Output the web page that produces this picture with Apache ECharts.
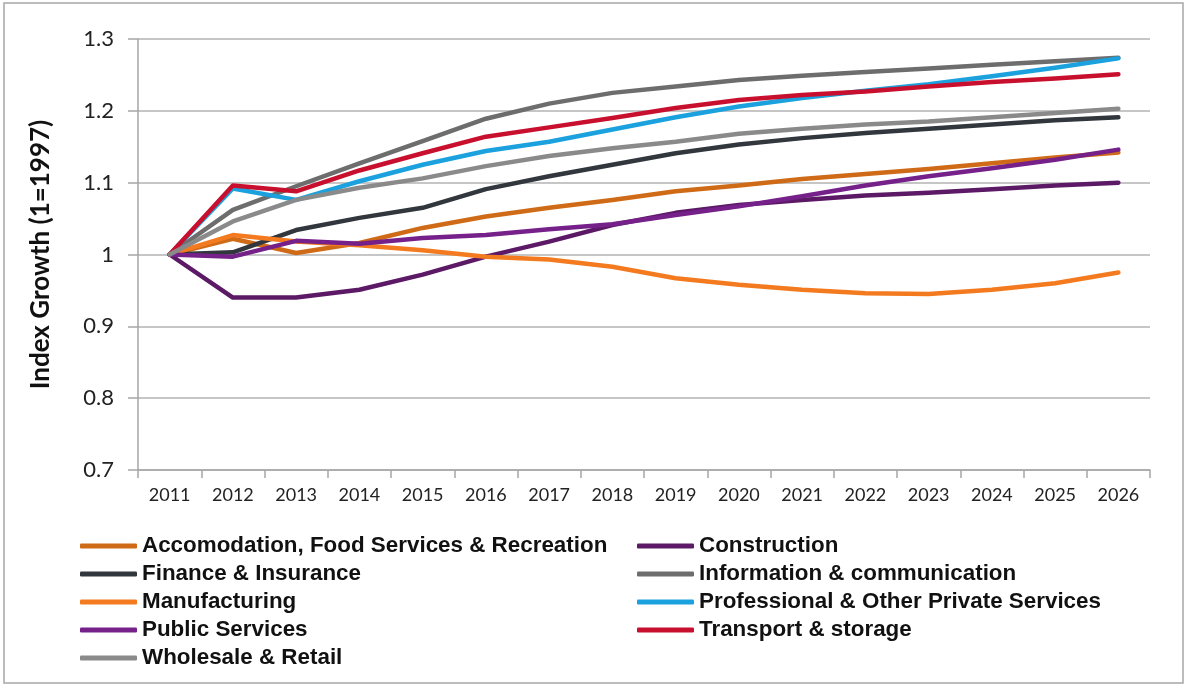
<!DOCTYPE html>
<html>
<head>
<meta charset="utf-8">
<script src="https://cdn.jsdelivr.net/npm/echarts@6/dist/echarts.min.js"></script>
<style>
html,body{margin:0;padding:0;background:#fff;}
#chart{width:1188px;height:688px;}
</style>
</head>
<body>
<div id="chart"></div>
<script>
const years = ['2011','2012','2013','2014','2015','2016','2017','2018','2019','2020','2021','2022','2023','2024','2025','2026'];

const accomodation  = [1.000,1.022,1.002,1.016,1.037,1.053,1.065,1.076,1.088,1.096,1.105,1.112,1.119,1.127,1.135,1.142];
const construction  = [1.000,0.940,0.940,0.951,0.972,0.997,1.018,1.041,1.058,1.069,1.076,1.082,1.086,1.091,1.096,1.100];
const finance       = [1.000,1.003,1.034,1.051,1.065,1.091,1.109,1.125,1.141,1.153,1.162,1.169,1.175,1.181,1.187,1.191];
const information   = [1.000,1.062,1.095,1.127,1.158,1.189,1.210,1.225,1.234,1.243,1.249,1.254,1.259,1.264,1.269,1.274];
const manufacturing = [1.000,1.027,1.018,1.013,1.006,0.997,0.993,0.983,0.967,0.958,0.951,0.946,0.945,0.951,0.960,0.975];
const professional  = [1.000,1.092,1.076,1.102,1.125,1.144,1.157,1.174,1.191,1.206,1.218,1.228,1.237,1.248,1.260,1.273];
const publicServ    = [1.000,0.997,1.019,1.015,1.023,1.027,1.035,1.042,1.055,1.067,1.081,1.096,1.109,1.120,1.132,1.146];
const transport     = [1.000,1.096,1.088,1.117,1.141,1.164,1.177,1.190,1.204,1.215,1.222,1.227,1.234,1.240,1.245,1.251];
const wholesale     = [1.000,1.046,1.076,1.093,1.106,1.123,1.137,1.148,1.157,1.168,1.175,1.181,1.185,1.191,1.197,1.203];

const seriesNames = [
  'Accomodation, Food Services & Recreation',
  'Construction',
  'Finance & Insurance',
  'Information & communication',
  'Manufacturing',
  'Professional & Other Private Services',
  'Public Services',
  'Transport & storage',
  'Wholesale & Retail'
];
const seriesData = [accomodation, construction, finance, information, manufacturing, professional, publicServ, transport, wholesale];
const seriesColors = ['#CF6A17','#5C1A66','#31373D','#6D6D6D','#F47A1F','#1BA1DD','#76208A','#C8102E','#8A8A8A'];

const yTicks = {min: 0.7, max: 1.3, interval: 0.1};
const yAxisTitle = 'Index Growth (1=1997)';

const chart = echarts.init(document.getElementById('chart'), null, {renderer: 'canvas'});

const legendText = {fontFamily: 'Liberation Sans, Arial, sans-serif', fontWeight: 'bold', fontSize: 22.4, color: '#111', lineHeight: 22};
const legendCommon = {
  orient: 'vertical', itemWidth: 57, itemHeight: 5, itemGap: 6, icon: 'roundRect',
  textStyle: legendText, selectedMode: false, padding: 0
};

const option = {
  backgroundColor: '#fff',
  animation: false,
  graphic: [{
    type: 'rect', shape: {x: 4, y: 3, width: 1179, height: 680},
    style: {fill: 'none', stroke: '#A6A6A6', lineWidth: 1.5}, silent: true
  }],
  legend: [
    Object.assign({left: 80, top: 535, data: [seriesNames[0], seriesNames[2], seriesNames[4], seriesNames[6], seriesNames[8]]}, legendCommon),
    Object.assign({left: 637, top: 535, data: [seriesNames[1], seriesNames[3], seriesNames[5], seriesNames[7]]}, legendCommon)
  ],
  grid: {left: 138, right: 38, top: 39, bottom: 218, containLabel: false},
  xAxis: {
    type: 'category', data: years, boundaryGap: true,
    axisLine: {show: true, lineStyle: {color: '#A6A6A6', width: 1.5}},
    axisTick: {show: true, alignWithLabel: false, length: 8, lineStyle: {color: '#A6A6A6', width: 1.5}},
    axisLabel: {fontFamily: 'Lato, sans-serif', fontSize: 18, color: '#222', margin: 16}
  },
  yAxis: {
    type: 'value', min: yTicks.min, max: yTicks.max, interval: yTicks.interval,
    name: yAxisTitle, nameLocation: 'middle', nameGap: 84, nameRotate: 90,
    nameTextStyle: {fontFamily: 'Lato, sans-serif', fontWeight: 'bold', fontSize: 26, color: '#111'},
    axisLine: {show: true, lineStyle: {color: '#A6A6A6', width: 1.5}},
    axisTick: {show: true, length: 10, lineStyle: {color: '#A6A6A6', width: 1.5}},
    axisLabel: {fontFamily: 'Lato, sans-serif', fontSize: 22, color: '#222', margin: 24,
      formatter: v => String(Math.round(v * 10) / 10)},
    splitLine: {show: true, lineStyle: {color: '#B3B3B3', width: 1.5}}
  },
  series: seriesNames.map((n, i) => ({
    name: n, type: 'line', data: seriesData[i], showSymbol: false, symbol: 'none',
    smooth: false, color: seriesColors[i],
    lineStyle: {width: 4.5, color: seriesColors[i], cap: 'round', join: 'round'}
  }))
};
chart.setOption(option);
</script>
</body>
</html>
